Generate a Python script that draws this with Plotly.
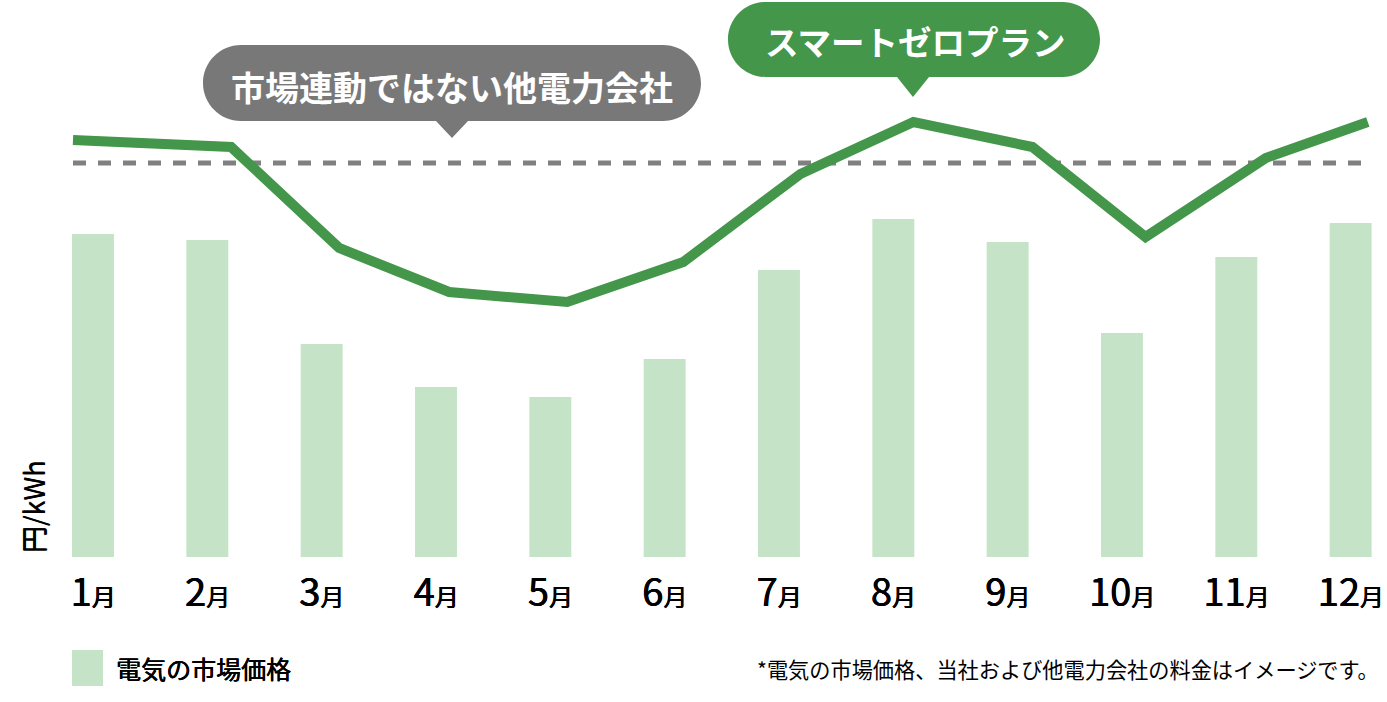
import plotly.graph_objects as go

# ---------------- data ----------------
month_labels = ["1月", "2月", "3月", "4月", "5月", "6月", "7月", "8月", "9月", "10月", "11月", "12月"]
month_pos = [1, 2, 3, 4, 5, 6, 7, 8, 9, 10, 11, 12]
market_price = [16.15, 15.85, 10.65, 8.5, 8.0, 9.9, 14.35, 16.9, 15.75, 11.2, 15.0, 16.7]
smart_zero_x = [0.825, 2.208, 3.153, 4.115, 5.148, 6.163, 7.187, 8.176, 9.217, 10.206, 11.258, 12.15]
smart_zero_price = [20.85, 20.5, 15.45, 13.25, 12.75, 14.75, 19.15, 21.75, 20.5, 16.0, 19.95, 21.75]
other_company_price = 19.7

legend_label = "電気の市場価格"
y_title = "円/kWh"
other_label = "市場連動ではない他電力会社"
smart_label = "スマートゼロプラン"
footnote = "*電気の市場価格、当社および他電力会社の料金はイメージです。"

# ---------------- styles ----------------
W, H = 1387, 702
PLOT_BOTTOM = 557
GREEN = "#43964a"
BAR = "#c5e4c7"
GRAY = "#787878"
DASH = "#808080"
FONT = "Noto Sans CJK JP"
MEDIUM = "0.6px 0 0 black, 0 0.4px 0 black"


def px(x):
    return x / W


def py(y):
    return (PLOT_BOTTOM - y) / PLOT_BOTTOM


def bubble_path(x0, x1, y0, y1, tipx, tipy, half):
    r = (y1 - y0) / 2
    k = 0.5523 * r

    def P(x, y):
        return f"{px(x):.6f},{py(y):.6f}"

    d = f"M {P(x0 + r, y0)} L {P(x1 - r, y0)} "
    d += f"C {P(x1 - r + k, y0)} {P(x1, y0 + r - k)} {P(x1, y0 + r)} "
    d += f"C {P(x1, y1 - r + k)} {P(x1 - r + k, y1)} {P(x1 - r, y1)} "
    d += f"L {P(tipx + half, y1)} L {P(tipx, tipy)} L {P(tipx - half, y1)} "
    d += f"L {P(x0 + r, y1)} "
    d += f"C {P(x0 + r - k, y1)} {P(x0, y1 - r + k)} {P(x0, y1 - r)} "
    d += f"C {P(x0, y0 + r - k)} {P(x0 + r - k, y0)} {P(x0 + r, y0)} Z"
    return d


ticktext = [lab.replace("月", "<span style='font-size:24px'>月</span>") for lab in month_labels]

fig = go.Figure()
fig.add_trace(go.Bar(
    x=month_pos, y=market_price, width=0.367,
    marker=dict(color=BAR, line=dict(width=0)),
    name=legend_label, showlegend=False, hoverinfo="skip",
))
fig.add_trace(go.Scatter(
    x=smart_zero_x, y=smart_zero_price, mode="lines",
    line=dict(color=GREEN, width=10),
    name=smart_label, showlegend=False, hoverinfo="skip",
))

shapes = [
    dict(type="line", xref="x", yref="y",
         x0=smart_zero_x[0], x1=smart_zero_x[-1],
         y0=other_company_price, y1=other_company_price,
         line=dict(color=DASH, width=5, dash="13px,12px"), layer="below"),
    dict(type="path", xref="paper", yref="paper",
         path=bubble_path(203, 701, 45, 121, 452, 138, 16),
         fillcolor=GRAY, line=dict(width=0)),
    dict(type="path", xref="paper", yref="paper",
         path=bubble_path(728, 1100, 2, 77, 913, 97, 16),
         fillcolor=GREEN, line=dict(width=0)),
    dict(type="rect", xref="paper", yref="paper",
         x0=px(72), x1=px(103), y0=py(686), y1=py(650),
         fillcolor=BAR, line=dict(width=0)),
]

annotations = [
    dict(text=f"<b>{other_label}</b>", x=px(452), y=py(86), xref="paper", yref="paper",
         xanchor="center", yanchor="middle", showarrow=False,
         font=dict(family=FONT, size=34, color="white")),
    dict(text=f"<b>{smart_label}</b>", x=px(915), y=py(40), xref="paper", yref="paper",
         xanchor="center", yanchor="middle", showarrow=False,
         font=dict(family=FONT, size=33.5, color="white")),
    dict(text=y_title, x=px(32), y=py(507), xref="paper", yref="paper",
         xanchor="center", yanchor="middle", showarrow=False, textangle=-90,
         font=dict(family=FONT, size=27, color="black", shadow="0 0.6px 0 black")),
    dict(text=legend_label, x=px(114), y=py(668), xref="paper", yref="paper",
         xanchor="left", yanchor="middle", showarrow=False,
         font=dict(family=FONT, size=25, color="black", shadow=MEDIUM)),
    dict(text=footnote, x=px(1381), y=py(668), xref="paper", yref="paper",
         xanchor="right", yanchor="middle", showarrow=False,
         font=dict(family=FONT, size=21.2, color="black")),
]

fig.update_layout(
    width=W, height=H,
    margin=dict(l=0, r=0, t=0, b=H - PLOT_BOTTOM, pad=0),
    paper_bgcolor="white", plot_bgcolor="white",
    showlegend=False, hovermode=False,
    shapes=shapes, annotations=annotations,
    xaxis=dict(range=[1 - 93 / 114.33, 1 + (W - 93) / 114.33],
               tickvals=month_pos, ticktext=ticktext,
               tickfont=dict(family=FONT, size=38, color="black", shadow=MEDIUM),
               ticks="", showgrid=False, zeroline=False, showline=False,
               ticklabelstandoff=10, fixedrange=True),
    yaxis=dict(range=[0, PLOT_BOTTOM / 20], visible=False, showgrid=False,
               zeroline=False, fixedrange=True),
)

fig.write_html(
    "out.html",
    config={"displayModeBar": False},
    post_script="document.body.style.margin='0';document.body.style.overflow='hidden';",
)
